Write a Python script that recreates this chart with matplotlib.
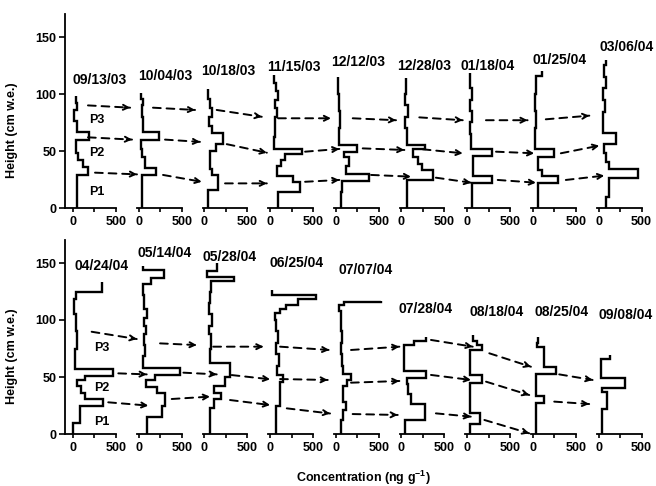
import matplotlib
matplotlib.use("Agg")
import matplotlib.pyplot as plt
from matplotlib.patches import ConnectionPatch

plt.rcParams["font.family"] = ["Liberation Sans", "DejaVu Sans"]
plt.rcParams["mathtext.default"] = "regular"

# sampling dates, one profile per date
top_dates = ["09/13/03", "10/04/03", "10/18/03", "11/15/03", "12/12/03",
             "12/28/03", "01/18/04", "01/25/04", "03/06/04"]
bottom_dates = ["04/24/04", "05/14/04", "05/28/04", "06/25/04", "07/07/04",
                "07/28/04", "08/18/04", "08/25/04", "09/08/04"]

# step profiles: layer boundaries (cm w.e.) and concentration (ng/g) per layer
top_heights = [
    [0, 29, 36, 42, 48, 60, 67, 76, 86, 92, 98],
    [0, 29, 35, 45, 52, 60, 67, 80, 90, 96, 101],
    [0, 16, 29, 34, 50, 56, 66, 72, 80, 88, 96, 104],
    [0, 14, 23, 28, 37, 42, 47, 52, 62, 72, 80, 88, 95, 103, 110, 117],
    [0, 14, 24, 30, 37, 45, 49, 55, 70, 85, 100, 115],
    [0, 25, 33, 39, 45, 52, 55, 70, 80, 90, 100, 114],
    [0, 22, 28, 46, 52, 65, 75, 85, 95, 105, 118],
    [0, 22, 28, 33, 45, 52, 70, 85, 100, 116, 120],
    [0, 10, 26, 34, 40, 48, 56, 66, 84, 95, 105, 115, 125, 130],
]
top_conc = [
    [45, 170, 120, 60, 40, 190, 50, 15, 50, 35],
    [40, 200, 70, 40, 30, 240, 50, 35, 45, 30],
    [45, 160, 90, 60, 140, 215, 90, 55, 90, 60, 40],
    [95, 350, 270, 80, 130, 170, 370, 45, 55, 60, 80, 60, 95, 70, 50],
    [55, 70, 385, 115, 150, 100, 250, 40, 50, 40, 30],
    [60, 370, 240, 190, 130, 275, 60, 40, 70, 45, 55],
    [55, 285, 70, 285, 50, 35, 60, 30, 55, 30],
    [55, 287, 110, 55, 245, 20, 35, 25, 40, 110],
    [85, 125, 455, 125, 85, 60, 205, 50, 80, 55, 90, 60, 90],
]
bottom_heights = [
    [0, 10, 25, 31, 36, 42, 47, 51, 57, 75, 90, 105, 118, 125, 133],
    [0, 15, 25, 36, 41, 47, 52, 58, 68, 78, 88, 95, 102, 110, 122, 132, 137, 144, 147],
    [0, 23, 31, 36, 42, 50, 62, 75, 88, 95, 105, 115, 125, 134, 138, 143, 150],
    [0, 25, 46, 52, 60, 70, 80, 90, 100, 106, 110, 113, 118, 122, 126],
    [0, 12, 21, 28, 42, 47, 53, 60, 70, 80, 90, 100, 108, 113, 116, 117],
    [0, 12, 26, 35, 44, 49, 55, 78, 82, 85],
    [0, 9, 18, 45, 52, 74, 78, 82, 87],
    [0, 27, 33, 53, 59, 76, 80, 85],
    [0, 22, 37, 40, 49, 66, 69],
]
bottom_conc = [
    [5, 80, 350, 140, 90, 50, 140, 460, 25, 45, 30, 15, 40, 333],
    [100, 275, 310, 215, 80, 195, 485, 55, 75, 60, 90, 60, 95, 65, 45, 140, 290, 50],
    [70, 110, 190, 110, 240, 300, 60, 80, 55, 85, 50, 65, 80, 340, 30, 150],
    [70, 110, 150, 80, 100, 70, 90, 70, 55, 110, 190, 330, 535, 20],
    [58, 80, 115, 80, 130, 175, 80, 70, 60, 70, 55, 65, 40, 90, 520],
    [35, 270, 110, 80, 60, 290, 30, 150, 280],
    [35, 150, 35, 170, 35, 170, 110, 70],
    [40, 130, 40, 265, 130, 45, 55],
    [40, 97, 45, 310, 30, 135],
]

# peak-tracking arrows: (from column, conc, height, to column, conc, height)
top_arrows = [
    (0, 174, 90, 1, -100, 88), (0, 174, 62, 1, -78, 60), (0, 256, 31, 1, -20, 29.5),
    (1, 166, 88, 2, -109, 86), (1, 306, 60, 2, -51, 58), (1, 283, 29, 2, -31, 23),
    (2, 143, 86, 3, -97, 80), (2, 260, 56, 3, -38, 48.5), (2, 240, 21.6, 3, -38, 21.6),
    (3, 93, 78.7, 4, -56, 78.7), (3, 407, 49.4, 4, 41, 51.8), (3, 407, 23, 4, 41, 24.6),
    (4, 197, 78.7, 5, -64, 77), (4, 313, 52.3, 5, 33, 50.9), (4, 410, 29, 5, 110, 27.5),
    (5, 207, 79.5, 6, -52, 77), (5, 247, 51.5, 6, -52, 48), (5, 400, 26.6, 6, 45, 22.2),
    (6, 218, 77, 7, -62, 77), (6, 335, 49.4, 7, 15, 48), (6, 355, 24.6, 7, 35, 22.2),
    (7, 150, 77.8, 8, -108, 81), (7, 325, 48, 8, 8, 54.7), (7, 383, 24.6, 8, 66, 28.4),
]
bottom_arrows = [
    (0, 217, 89.7, 1, -23, 83.3), (0, 527, 53.2, 1, 93, 52.3), (0, 410, 27.8, 1, 112, 24.9),
    (1, 248, 79.5, 2, -90, 78), (1, 520, 53.8, 2, 143, 52.3), (1, 384, 30.7, 2, 65, 32.8),
    (2, 103, 76.6, 3, -78, 76.6), (2, 317, 51.7, 3, 0, 48), (2, 298, 29.8, 3, 0, 25.4),
    (3, 116, 76.6, 4, -76, 73.7), (3, 116, 48.2, 4, -94, 47.4), (3, 194, 22.5, 4, -67, 18),
    (4, 177, 73.7, 5, -25, 76.6), (4, 177, 45, 5, -25, 46.5), (4, 196, 17.5, 5, -44, 16.7),
    (5, 343, 82.5, 6, 64, 76.6), (5, 343, 51.8, 6, 44, 47.4), (5, 400, 18.1, 6, 44, 15.2),
    (6, 257, 70.8, 7, -23, 59), (6, 219, 45.9, 7, -43, 34.2), (6, 200, 12.3, 7, -43, 0.6),
    (7, 306, 52.3, 8, -70, 47.4), (7, 248, 28.4, 8, -110, 26.3),
]

# where each date label sits (conc, height) within its column
top_label_pos = [(314, 112), (306, 116), (277, 120), (279, 124), (258, 128),
                 (263, 125), (242, 125), (314, 130), (321, 141)]
bottom_label_pos = [(337, 147), (306, 158.5), (298, 155.5), (302, 149.7), (351, 143.9),
                    (285, 110), (347, 107), (337, 107), (318, 104.4)]
top_p_pos = [(279, 77), (279, 48), (279, 14)]
bottom_p_pos = [(337, 75.7), (337, 40), (337, 10.8)]

XLIM = (-93, 671)
YLIM = (0, 170)
FS = 9


def make_row(fig, bottom):
    axes = []
    for k in range(9):
        ax = fig.add_axes([(65 + k * 65.7) / 656, bottom, 65.7 / 656, 193.8 / 486])
        ax.set_xlim(*XLIM)
        ax.set_ylim(*YLIM)
        ax.patch.set_alpha(0)
        for s in ("top", "right"):
            ax.spines[s].set_visible(False)
        ax.spines["bottom"].set_bounds(XLIM[0] if k == 0 else -20, 500)
        ax.spines["bottom"].set_linewidth(1.3)
        ax.set_xticks([0, 250, 500])
        ax.set_xticklabels(["0", "", "500"], fontsize=FS, fontweight="bold")
        ax.tick_params(axis="x", length=3, width=1.2, pad=3)
        if k == 0:
            ax.spines["left"].set_linewidth(1.3)
            ax.set_yticks([0, 50, 100, 150])
            ax.set_yticklabels(["0", "50", "100", "150"], fontsize=FS, fontweight="bold")
            ax.tick_params(axis="y", length=4, width=1.2, pad=2)
            ax.set_ylabel("Height (cm w.e.)", fontsize=FS, fontweight="bold")
            ax.yaxis.set_label_coords(-0.72, 0.40)
        else:
            ax.spines["left"].set_visible(False)
            ax.set_yticks([])
        axes.append(ax)
    return axes


def draw_row(fig, axes, heights, conc, dates, label_pos, arrows, p_pos):
    for ax, h, c, d, (lc, lh) in zip(axes, heights, conc, dates, label_pos):
        ax.stairs(c, h, orientation="horizontal", baseline=None,
                  color="black", lw=1.7, clip_on=False)
        ax.text(lc, lh, d, ha="center", va="center", fontsize=10,
                fontweight="bold", clip_on=False)
    for name, (pc, ph) in zip(["P3", "P2", "P1"], p_pos):
        axes[0].text(pc, ph, name, ha="center", va="center", fontsize=FS,
                     fontweight="bold")
    span = XLIM[1] - XLIM[0]
    for ia, ca, ha, ib, cb, hb in arrows:
        axA, axB = axes[ia], axes[ib]
        line = ConnectionPatch((ca, ha), (cb, hb), coordsA=axA.transData,
                               coordsB=axB.transData, arrowstyle="-",
                               linestyle=(0, (4, 3)), lw=1.4, color="black")
        fig.add_artist(line)
        # short solid piece carrying the head
        dist = (ib - ia) * span + cb - ca
        back = 60
        hx = hb - (hb - ha) * back / dist
        head = ConnectionPatch((cb - back, hx), (cb, hb), coordsA=axB.transData,
                               coordsB=axB.transData, arrowstyle="->",
                               mutation_scale=9, lw=1.4, color="black")
        fig.add_artist(head)


fig = plt.figure(figsize=(6.56, 4.86), dpi=100)
top_axes = make_row(fig, (486 - 208) / 486)
bottom_axes = make_row(fig, (486 - 434) / 486)

draw_row(fig, top_axes, top_heights, top_conc, top_dates, top_label_pos,
         top_arrows, top_p_pos)
draw_row(fig, bottom_axes, bottom_heights, bottom_conc, bottom_dates,
         bottom_label_pos, bottom_arrows, bottom_p_pos)

fig.text(363 / 656, 1 - 478 / 486, "Concentration (ng g$^{-1}$)", ha="center",
         va="center", fontsize=FS, fontweight="bold")

fig.savefig("out.png", dpi=100)
